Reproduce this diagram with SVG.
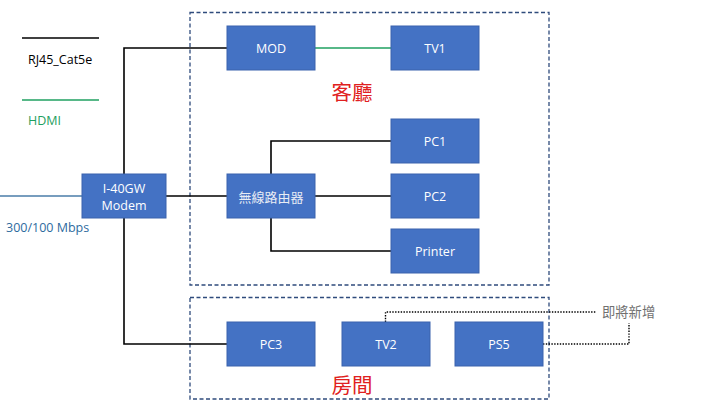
<svg xmlns="http://www.w3.org/2000/svg" width="720" height="405" viewBox="0 0 720 405">
<style>
.node rect{fill:#4472C4;stroke:#3A63AD;stroke-width:1}
.node text{fill:#fff;font-family:"Open Sans","Liberation Sans",sans-serif;font-size:12.5px;text-anchor:middle;dominant-baseline:central}
.zone{fill:none;stroke:#2F4B7C;stroke-width:1.3;stroke-dasharray:4,2.5}
.eth{fill:none;stroke:#000;stroke-width:1.6}
.hdmi{fill:none;stroke:#1FA060;stroke-width:1.6}
.dot{fill:none;stroke:#000;stroke-width:1.4;stroke-dasharray:1.4,1.4}
.room{fill:#E02020;font-family:"Noto Sans CJK TC","Noto Sans CJK SC",sans-serif;font-size:20.5px;text-anchor:middle}
.lbl{font-family:"Open Sans","Liberation Sans",sans-serif;font-size:12.5px}
</style>
<rect width="720" height="405" fill="#fff"/>
<g id="legend">
<line x1="22" y1="38" x2="99" y2="38" class="eth"/>
<text x="28" y="64" class="lbl" fill="#000">RJ45_Cat5e</text>
<line x1="22" y1="100" x2="99" y2="100" class="hdmi"/>
<text x="28" y="125" class="lbl" fill="#1FA060">HDMI</text>
</g>
<g id="zones">
<rect id="living" x="190" y="12.5" width="359" height="272.5" class="zone"/>
<text x="352" y="100" class="room">客廳</text>
<rect id="bedroom" x="190" y="297.5" width="359" height="101.5" class="zone"/>
<text x="352" y="393" class="room">房間</text>
</g>
<g id="connectors">
<line x1="0" y1="196" x2="82" y2="196" stroke="#4A7CA8" stroke-width="1.5"/>
<text x="6" y="232" class="lbl" fill="#2E6B9E">300/100 Mbps</text>
<polyline points="227,48 124,48 124,344 227,344" class="eth"/>
<line x1="166" y1="196" x2="227" y2="196" class="eth"/>
<line x1="315" y1="196" x2="391" y2="196" class="eth"/>
<polyline points="391,141 271,141 271,251 391,251" class="eth"/>
<line x1="315" y1="48" x2="391" y2="48" class="hdmi"/>
<polyline points="385.5,322 385.5,312 596,312" class="dot"/>
<polyline points="543,344 629,344 629,323" class="dot"/>
<text x="602" y="317" font-family="'Noto Sans CJK TC','Noto Sans CJK SC',sans-serif" font-size="13.3" fill="#707070">即將新增</text>
</g>
<g id="modem" class="node"><rect x="82" y="174" width="84" height="44"/><text x="124" y="188">I-40GW</text><text x="124" y="205">Modem</text></g>
<g id="mod" class="node"><rect x="227" y="26" width="88" height="44"/><text x="271" y="48">MOD</text></g>
<g id="tv1" class="node"><rect x="391" y="26" width="88" height="44"/><text x="435" y="48">TV1</text></g>
<g id="router" class="node"><rect x="227" y="174" width="88" height="44"/><text x="271" y="196" style="fill:#E8ECF4;font-family:'Noto Sans CJK TC','Noto Sans CJK SC',sans-serif;font-size:13px">無線路由器</text></g>
<g id="pc1" class="node"><rect x="391" y="119" width="88" height="44"/><text x="435" y="141">PC1</text></g>
<g id="pc2" class="node"><rect x="391" y="174" width="88" height="44"/><text x="435" y="196">PC2</text></g>
<g id="printer" class="node"><rect x="391" y="229" width="88" height="44"/><text x="435" y="251">Printer</text></g>
<g id="pc3" class="node"><rect x="227" y="322" width="88" height="44"/><text x="271" y="344">PC3</text></g>
<g id="tv2" class="node"><rect x="342" y="322" width="88" height="44"/><text x="386" y="344">TV2</text></g>
<g id="ps5" class="node"><rect x="455" y="322" width="88" height="44"/><text x="499" y="344">PS5</text></g>
</svg>
